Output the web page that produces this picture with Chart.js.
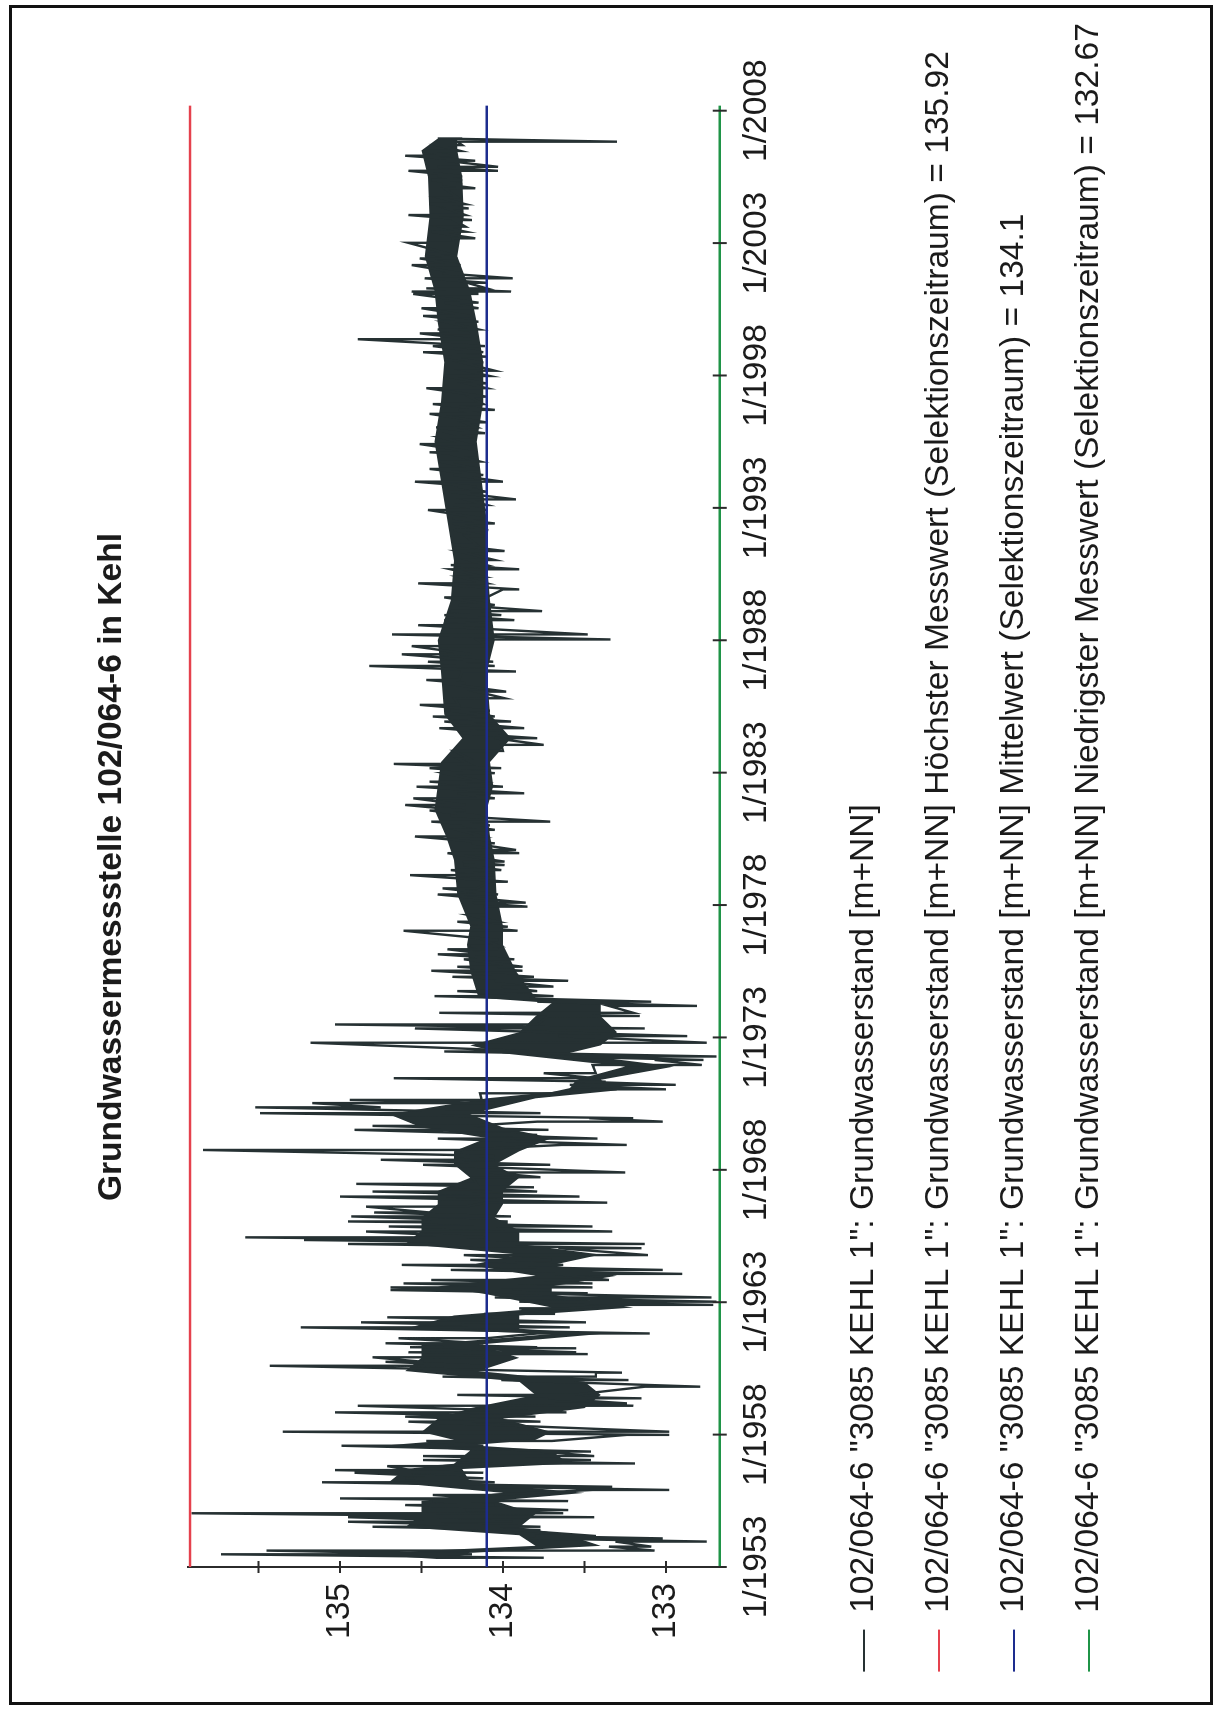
<!DOCTYPE html>
<html>
<head>
<meta charset="utf-8">
<title>Grundwassermessstelle 102/064-6 in Kehl</title>
<script src="https://cdn.jsdelivr.net/npm/chart.js@4.4.1/dist/chart.umd.min.js"></script>
<style>
  html, body { margin: 0; padding: 0; background: #fff; }
  body { width: 1219px; height: 1713px; position: relative; overflow: hidden; }
  /* the sheet is drawn landscape and turned a quarter to the left */
  #sheet { position: absolute; left: 0; top: 0; width: 1713px; height: 1219px;
           transform-origin: 0 0; transform: translate(0, 1713px) rotate(-90deg); }
  #sheet canvas { display: block; }
  #frame { position: absolute; left: 9px; top: 5px; width: 1204px; height: 1700px;
           border: 3px solid #111; box-sizing: border-box; pointer-events: none; }
</style>
</head>
<body>
<div id="sheet"><canvas id="myChart" width="1713" height="1219"></canvas></div>
<div id="frame"></div>
<script>
/*--------------------DATOS------------------------*/
// each reading: time (decimal year), upper and lower level of the swing [m+NN]
const strokeYears = [
  1953.35, 1953.48, 1953.62, 1953.77, 1953.96, 1954.08, 1954.17, 1954.40, 1954.52, 1954.71,
  1954.88, 1955.03, 1955.15, 1955.34, 1955.49, 1955.59, 1955.72, 1955.91, 1956.03, 1956.20,
  1956.35, 1956.56, 1956.66, 1956.81, 1956.91, 1957.04, 1957.19, 1957.36, 1957.58, 1957.76,
  1957.99, 1958.11, 1958.49, 1958.68, 1958.84, 1959.09, 1959.18, 1959.37, 1959.50, 1959.81,
  1960.06, 1960.19, 1960.34, 1960.60, 1960.75, 1960.92, 1961.04, 1961.11, 1961.26, 1961.30,
  1961.45, 1961.64, 1961.82, 1962.05, 1962.24, 1962.43, 1962.56, 1962.77, 1962.90, 1963.02,
  1963.18, 1963.34, 1963.46, 1963.56, 1963.71, 1963.84, 1964.07, 1964.22, 1964.41, 1964.60,
  1964.78, 1965.04, 1965.20, 1965.35, 1965.45, 1965.67, 1965.86, 1965.98, 1966.05, 1966.24,
  1966.39, 1966.61, 1966.76, 1966.99, 1967.18, 1967.34, 1967.47, 1967.72, 1967.90, 1968.19,
  1968.38, 1968.53, 1968.75, 1968.94, 1969.18, 1969.32, 1969.51, 1969.66, 1969.82, 1969.95,
  1970.14, 1970.36, 1970.52, 1970.64, 1970.89, 1971.04, 1971.21, 1971.33, 1971.46, 1971.65,
  1971.96, 1972.15, 1972.28, 1972.47, 1972.80, 1973.05, 1973.34, 1973.49, 1973.81, 1973.93,
  1974.19, 1974.35, 1974.56, 1974.75, 1974.92, 1975.14, 1975.29, 1975.52, 1975.67, 1975.95,
  1976.14, 1976.33, 1976.45, 1976.68, 1977.03, 1977.18, 1977.37, 1977.62, 1977.94, 1978.09,
  1978.40, 1978.63, 1978.88, 1979.13, 1979.32, 1979.51, 1979.64, 1979.96, 1980.08, 1980.33,
  1980.59, 1980.84, 1981.01, 1981.15, 1981.37, 1981.57, 1981.78, 1982.03, 1982.22, 1982.47,
  1982.66, 1982.98, 1983.17, 1983.33, 1983.54, 1983.82, 1984.05, 1984.30, 1984.49, 1984.68,
  1984.93, 1985.12, 1985.34, 1985.56, 1985.81, 1986.06, 1986.38, 1986.50, 1986.82, 1987.03,
  1987.19, 1987.47, 1987.78, 1988.03, 1988.22, 1988.57, 1988.76, 1988.95, 1989.10, 1989.33,
  1989.62, 1989.92, 1990.15, 1990.40, 1990.68, 1990.84, 1991.03, 1991.37, 1991.60, 1991.94,
  1992.16, 1992.41, 1992.60, 1992.92, 1993.11, 1993.32, 1993.61, 1993.80, 1993.99, 1994.24,
  1994.47, 1994.75, 1995.00, 1995.10, 1995.41, 1995.67, 1995.82, 1996.04, 1996.23, 1996.55,
  1996.70, 1996.92, 1997.20, 1997.52, 1997.70, 1997.98, 1998.18, 1998.49, 1998.71, 1998.88,
  1999.11, 1999.37, 1999.59, 1999.74, 2000.03, 2000.25, 2000.54, 2000.75, 2001.08, 2001.17,
  2001.29, 2001.50, 2001.67, 2001.86, 2002.17, 2002.42, 2002.61, 2003.01, 2003.18, 2003.43,
  2003.62, 2003.87, 2004.06, 2004.31, 2004.47, 2004.73, 2005.07, 2005.23, 2005.38, 2005.53,
  2005.73, 2005.88, 2006.11, 2006.30, 2006.48, 2006.70, 2006.83, 2006.95
];
const strokeHigh = [
  134.25, 135.73, 135.45, 133.35, 133.31, 133.83, 133.80, 133.94, 134.80, 134.95,
  134.95, 135.91, 134.23, 134.60, 134.43, 135.00, 134.43, 133.45, 134.08, 135.11,
  134.60, 134.91, 135.03, 134.71, 134.05, 134.49, 134.49, 133.77, 134.99, 134.47,
  133.24, 135.35, 134.58, 134.60, 135.03, 134.89, 133.68, 133.72, 134.28, 133.13,
  134.01, 134.37, 133.43, 135.43, 134.72, 134.80, 134.10, 134.58, 134.30, 134.57,
  134.72, 134.64, 133.79, 135.24, 134.87, 134.71, 134.10, 133.90, 133.28, 133.90,
  134.05, 133.94, 134.69, 134.69, 134.61, 134.44, 133.68, 134.32, 134.62, 134.20,
  134.24, 133.66, 134.95, 135.22, 135.58, 134.84, 134.70, 134.40, 134.95, 134.93,
  134.79, 134.84, 134.10, 135.00, 134.80, 134.27, 134.90, 134.19, 134.08, 134.49,
  134.75, 134.30, 135.84, 133.64, 134.40, 134.10, 134.91, 134.80, 133.79, 133.47,
  135.49, 135.52, 135.17, 134.94, 134.14, 133.59, 133.59, 133.52, 134.67, 133.75,
  133.45, 133.07, 133.70, 134.36, 135.18, 133.66, 134.54, 135.03, 133.72, 134.39,
  133.35, 133.79, 134.42, 134.28, 134.01, 134.05, 134.31, 134.44, 134.28, 134.24,
  134.40, 134.34, 134.20, 134.12, 134.61, 134.19, 134.28, 134.21, 134.11, 134.19,
  134.40, 134.37, 134.08, 134.57, 134.32, 134.24, 134.25, 134.34, 134.19, 134.19,
  134.54, 134.28, 134.25, 134.44, 134.32, 134.45, 134.60, 134.55, 134.28, 134.53,
  134.45, 134.36, 134.45, 134.67, 134.28, 134.30, 134.01, 134.05, 134.25, 134.39,
  134.36, 134.43, 134.32, 134.51, 134.30, 134.16, 134.37, 134.47, 134.25, 134.82,
  134.46, 134.62, 134.56, 134.16, 134.68, 134.52, 134.36, 134.36, 134.32, 134.27,
  134.36, 134.00, 134.52, 134.27, 134.32, 134.32, 134.21, 134.28, 134.30, 134.23,
  134.30, 134.31, 134.31, 134.46, 134.30, 134.23, 134.33, 134.28, 134.54, 134.30,
  134.45, 134.39, 134.30, 134.45, 134.51, 134.39, 134.32, 134.41, 134.24, 134.45,
  134.27, 134.43, 134.21, 134.47, 134.22, 134.36, 134.23, 134.25, 134.36, 134.49,
  134.43, 134.89, 134.51, 134.40, 134.36, 134.49, 134.50, 134.36, 134.55, 134.56,
  134.47, 134.22, 134.48, 134.37, 134.56, 134.51, 134.47, 134.58, 134.31, 134.44,
  134.38, 134.30, 134.58, 134.35, 134.45, 134.40, 134.36, 134.37, 134.44, 134.40,
  134.58, 134.40, 134.35, 134.60, 134.49, 134.40, 134.28, 134.40
];
const strokeLow = [
  133.75, 134.19, 133.07, 133.09, 132.75, 133.02, 133.43, 133.77, 133.77, 133.94,
  133.44, 133.63, 133.60, 134.05, 133.60, 134.10, 134.08, 132.98, 133.33, 134.05,
  134.12, 134.12, 134.56, 134.40, 133.19, 133.46, 133.44, 133.46, 134.12, 133.70,
  132.98, 132.98, 133.77, 133.80, 133.61, 133.20, 133.24, 133.15, 133.57, 132.79,
  133.23, 133.43, 133.27, 134.12, 134.49, 134.12, 133.48, 133.55, 133.55, 133.79,
  134.12, 134.10, 133.10, 133.59, 133.49, 134.08, 133.68, 133.60, 132.71, 132.69,
  132.72, 133.48, 133.94, 133.45, 133.45, 133.35, 132.90, 133.02, 133.63, 133.70,
  133.11, 133.15, 133.13, 134.10, 134.10, 133.33, 133.45, 133.97, 133.97, 133.95,
  134.45, 134.23, 133.36, 133.53, 133.79, 133.81, 134.16, 133.77, 133.25, 133.71,
  134.05, 134.05, 134.27, 133.24, 133.42, 133.79, 133.72, 134.21, 133.02, 133.20,
  133.77, 134.75, 134.05, 134.13, 133.70, 133.00, 132.94, 133.37, 133.43, 133.43,
  132.78, 132.77, 132.69, 133.79, 132.75, 132.87, 133.13, 133.79, 133.16, 133.20,
  132.81, 133.09, 133.69, 133.79, 133.69, 133.60, 133.81, 133.88, 133.88, 133.93,
  134.08, 134.03, 134.02, 134.03, 133.91, 133.97, 134.03, 134.10, 133.85, 133.86,
  134.03, 134.16, 133.97, 134.05, 134.01, 133.99, 133.99, 133.90, 133.92, 134.05,
  134.12, 134.05, 134.08, 133.71, 134.14, 134.23, 134.23, 134.05, 133.87, 134.00,
  134.12, 134.05, 134.01, 134.21, 134.21, 134.00, 133.75, 133.79, 134.01, 133.87,
  133.95, 134.05, 134.08, 134.27, 133.99, 133.98, 134.23, 134.27, 133.92, 134.05,
  134.06, 134.19, 134.10, 133.34, 133.48, 134.10, 133.93, 134.01, 133.76, 134.05,
  134.10, 133.90, 134.10, 134.12, 133.90, 134.10, 134.05, 133.99, 134.16, 134.12,
  134.09, 134.05, 134.12, 134.10, 134.10, 133.92, 134.10, 134.16, 134.00, 134.12,
  134.15, 134.14, 134.16, 134.17, 134.22, 134.23, 134.11, 134.16, 134.10, 134.14,
  134.05, 134.12, 134.10, 134.10, 134.10, 134.08, 134.05, 134.12, 134.10, 134.12,
  134.11, 134.19, 134.20, 134.15, 134.15, 134.20, 134.15, 134.15, 134.15, 133.95,
  134.10, 134.10, 133.94, 134.26, 134.26, 134.28, 134.34, 134.30, 134.17, 134.23,
  134.23, 134.19, 134.23, 134.21, 134.23, 134.28, 134.17, 134.25, 134.25, 134.25,
  134.03, 134.03, 134.17, 134.32, 134.26, 134.25, 133.30, 134.25
];

// the dense, fully inked core of the record (where the weekly readings overlap)
const coreYears = [
  1953.30, 1953.50, 1953.80, 1954.20, 1954.50, 1955.00, 1955.50, 1955.80, 1956.20, 1956.70,
  1956.90, 1957.40, 1957.60, 1957.80, 1958.10, 1958.60, 1959.00, 1959.50, 1960.00, 1960.40,
  1960.90, 1961.40, 1961.80, 1962.00, 1962.50, 1962.80, 1963.30, 1963.60, 1964.00, 1964.40,
  1964.80, 1965.20, 1965.70, 1966.20, 1966.70, 1967.20, 1967.70, 1968.20, 1968.70, 1969.20,
  1969.60, 1970.10, 1970.70, 1971.00, 1971.40, 1971.90, 1972.40, 1972.70, 1973.20, 1973.80,
  1974.30, 1974.50, 1975.50, 1976.50, 1977.20, 1978.40, 1979.70, 1980.60, 1981.60, 1982.50,
  1983.40, 1984.30, 1985.20, 1986.80, 1988.00, 1989.50, 1991.00, 1992.50, 1994.00, 1995.50,
  1997.00, 1998.50, 2000.00, 2001.20, 2002.50, 2004.00, 2005.50, 2006.50, 2006.95
];
const coreHigh = [
  134.40, 134.90, 133.80, 133.90, 134.60, 134.50, 134.50, 134.00, 134.70, 134.60,
  134.30, 134.20, 134.70, 134.30, 134.50, 134.40, 134.20, 133.80, 133.90, 134.60,
  134.50, 134.50, 133.70, 134.60, 134.30, 133.70, 134.10, 134.40, 133.80, 134.20,
  133.90, 134.60, 134.50, 134.50, 134.40, 134.40, 134.20, 134.30, 134.30, 134.10,
  134.50, 134.70, 134.10, 133.60, 133.55, 133.25, 134.00, 134.20, 133.90, 133.80,
  133.70, 134.15, 134.20, 134.22, 134.20, 134.28, 134.30, 134.35, 134.42, 134.40,
  134.38, 134.25, 134.36, 134.38, 134.40, 134.32, 134.30, 134.34, 134.38, 134.42,
  134.38, 134.36, 134.40, 134.42, 134.48, 134.45, 134.46, 134.50, 134.40
];
const coreLow = [
  134.15, 134.30, 133.40, 133.60, 133.90, 133.80, 134.05, 133.50, 134.20, 134.25,
  133.60, 133.70, 134.20, 133.80, 133.70, 134.00, 133.50, 133.40, 133.50, 134.15,
  133.90, 134.15, 133.40, 133.90, 133.90, 133.20, 133.70, 133.70, 133.30, 133.70,
  133.40, 133.90, 133.90, 134.05, 134.00, 134.00, 133.90, 134.05, 133.90, 133.70,
  134.00, 134.20, 133.80, 133.30, 133.40, 132.95, 133.60, 133.40, 133.30, 133.40,
  133.40, 133.80, 133.92, 134.00, 134.00, 134.04, 134.05, 134.08, 134.10, 134.06,
  134.08, 133.95, 134.08, 134.10, 134.05, 134.08, 134.10, 134.10, 134.13, 134.16,
  134.12, 134.12, 134.16, 134.20, 134.28, 134.24, 134.25, 134.28, 134.28
];

const maxLevel = 135.92;   // Höchster Messwert
const meanLevel = 134.1;   // Mittelwert
const minLevel = 132.67;   // Niedrigster Messwert

const yearTicks = [1953, 1958, 1963, 1968, 1973, 1978, 1983, 1988, 1993, 1998, 2003, 2008];
const levelTicks = [133, 133.5, 134, 134.5, 135, 135.5];

const seriesNames = [
  '102/064-6 "3085 KEHL 1": Grundwasserstand [m+NN]',
  '102/064-6 "3085 KEHL 1": Grundwasserstand [m+NN] Höchster Messwert (Selektionszeitraum) = 135.92',
  '102/064-6 "3085 KEHL 1": Grundwasserstand [m+NN] Mittelwert (Selektionszeitraum) = 134.1',
  '102/064-6 "3085 KEHL 1": Grundwasserstand [m+NN] Niedrigster Messwert (Selektionszeitraum) = 132.67'
];
const seriesColors = ['#263133', '#e5414d', '#1d2c8e', '#1f9447'];

const xStart = 1953;
const xEnd = 2008.2;

/*--------------------GRAFICO------------------------*/
Chart.defaults.font.family = '"Liberation Sans", Arial, Helvetica, sans-serif';
Chart.defaults.color = '#1b1b1b';

// every swing runs from its upper to its lower level
let readings = [];
strokeYears.forEach((t, i) => {
  readings.push({ x: t, y: strokeHigh[i] }, { x: t, y: strokeLow[i] });
});
let coreTop = coreYears.map((t, i) => ({ x: t, y: coreHigh[i] }));
let coreBottom = coreYears.map((t, i) => ({ x: t, y: coreLow[i] }));

let flat = (value) => [{ x: xStart, y: value }, { x: xEnd, y: value }];

// tick marks that cross the axis lines, as in the print
const crossTicks = {
  id: 'crossTicks',
  afterDraw(chart) {
    const { ctx, chartArea, scales } = chart;
    ctx.save();
    ctx.strokeStyle = '#2b2b2b';
    ctx.lineWidth = 2;
    ctx.beginPath();
    scales.y.ticks.forEach((t) => {
      const p = scales.y.getPixelForValue(t.value);
      ctx.moveTo(chartArea.left - 6, p);
      ctx.lineTo(chartArea.left + 6, p);
    });
    const base = scales.y.getPixelForValue(minLevel);
    scales.x.ticks.forEach((t) => {
      const p = scales.x.getPixelForValue(t.value);
      ctx.moveTo(p, base - 7);
      ctx.lineTo(p, base + 7);
    });
    ctx.stroke();
    ctx.restore();
  }
};

const ctx = document.getElementById('myChart');
const dataset = {
  datasets: [
    { label: seriesNames[0], data: readings, borderColor: seriesColors[0], backgroundColor: seriesColors[0],
      borderWidth: 2.4, pointRadius: 0, tension: 0, order: 1 },
    { label: seriesNames[1], data: flat(maxLevel), borderColor: seriesColors[1], backgroundColor: seriesColors[1],
      borderWidth: 2.5, pointRadius: 0, order: 0 },
    { label: seriesNames[2], data: flat(meanLevel), borderColor: seriesColors[2], backgroundColor: seriesColors[2],
      borderWidth: 2.5, pointRadius: 0, order: 0 },
    { label: seriesNames[3], data: flat(minLevel), borderColor: seriesColors[3], backgroundColor: seriesColors[3],
      borderWidth: 2.5, pointRadius: 0, order: 0 },
    { label: 'core', data: coreTop, borderWidth: 0, borderColor: seriesColors[0], backgroundColor: seriesColors[0],
      pointRadius: 0, fill: '+1', order: 2 },
    { label: 'core', data: coreBottom, borderWidth: 0, borderColor: seriesColors[0], backgroundColor: seriesColors[0],
      pointRadius: 0, fill: false, order: 2 }
  ]
};

const config = {
  type: 'line',
  data: dataset,
  plugins: [crossTicks],
  options: {
    responsive: false,
    animation: false,
    devicePixelRatio: 1,
    layout: { padding: { top: 0, left: 0, right: 21, bottom: 103.2 } },
    plugins: {
      tooltip: { enabled: false },
      title: {
        display: true,
        text: 'Grundwassermessstelle 102/064-6 in Kehl',
        font: { size: 33.6, weight: 'bold' },
        color: '#1b1b1b',
        padding: { top: 91.8, bottom: 56.2 }
      },
      legend: {
        position: 'bottom',
        align: 'start',
        labels: {
          boxWidth: 42,
          boxHeight: 2,
          padding: 41.4,
          font: { size: 33.6 },
          color: '#1b1b1b',
          filter: (item) => item.datasetIndex < 4,
          sort: (a, b) => a.datasetIndex - b.datasetIndex,
          generateLabels: (chart) =>
            Chart.defaults.plugins.legend.labels.generateLabels(chart).map((item) => {
              item.fillStyle = item.strokeStyle;
              item.lineWidth = 0;
              return item;
            })
        }
      }
    },
    scales: {
      x: {
        type: 'linear',
        min: xStart,
        max: xEnd,
        afterBuildTicks: (axis) => { axis.ticks = yearTicks.map((v) => ({ value: v })); },
        afterFit: (axis) => { axis.height = 82.8; },
        ticks: {
          callback: (v) => '1/' + v,
          font: { size: 33.6 },
          color: '#1b1b1b',
          padding: 14,
          maxRotation: 0,
          minRotation: 0,
          autoSkip: false
        },
        grid: { display: false, drawTicks: false },
        border: { display: false }
      },
      y: {
        min: 132.65,
        max: 135.93,
        afterBuildTicks: (axis) => { axis.ticks = levelTicks.map((v) => ({ value: v })); },
        afterFit: (axis) => { axis.width = 146; },
        ticks: {
          callback: (v) => (Number.isInteger(v) ? String(v) : ''),
          font: { size: 33.6 },
          color: '#1b1b1b',
          padding: 16
        },
        grid: { display: false, drawTicks: false },
        border: { display: true, color: '#2b2b2b', width: 2 }
      },
      side: {
        position: 'right',
        display: true,
        afterFit: (axis) => { axis.width = 84.4; },
        ticks: { display: false },
        grid: { display: false, drawTicks: false },
        border: { display: false }
      }
    }
  }
};

const chart = new Chart(ctx, config);
</script>
</body>
</html>
